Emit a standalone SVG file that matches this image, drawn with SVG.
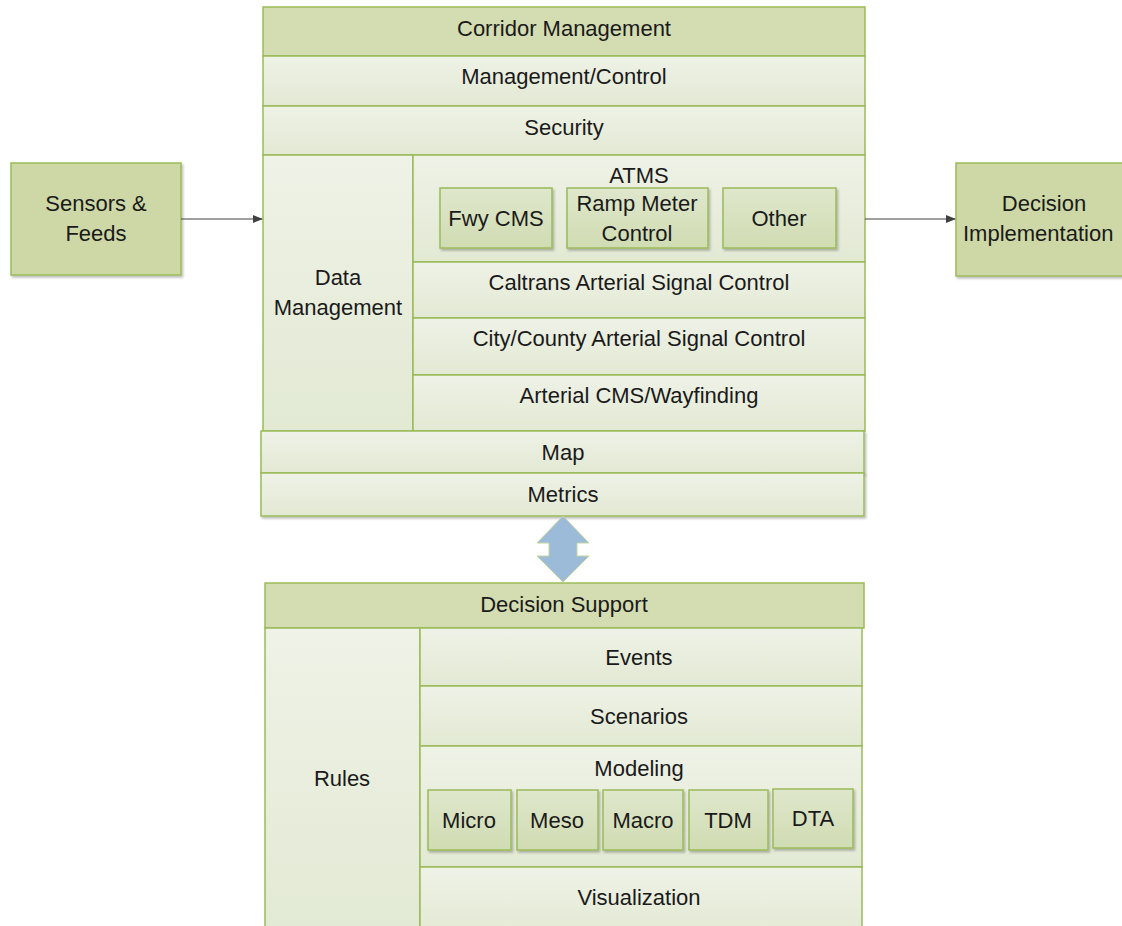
<svg xmlns="http://www.w3.org/2000/svg" width="1122" height="926" viewBox="0 0 1122 926">
<defs>
<linearGradient id="lg" x1="0" y1="0" x2="0" y2="1"><stop offset="0" stop-color="#eff2e7"/><stop offset="1" stop-color="#e2e9d3"/></linearGradient>
<linearGradient id="bg" x1="0" y1="0" x2="0" y2="1"><stop offset="0" stop-color="#dfe7cc"/><stop offset="1" stop-color="#d0dcb2"/></linearGradient>
<marker id="ah" markerWidth="10" markerHeight="8" refX="9" refY="4" orient="auto" markerUnits="userSpaceOnUse"><path d="M0,0 L10,4 L0,8 Z" fill="#404040"/></marker>
<filter id="sh" x="-5%" y="-5%" width="115%" height="120%"><feDropShadow dx="1.5" dy="2" stdDeviation="1" flood-color="#000" flood-opacity="0.25"/></filter>
</defs>
<style>
.hd{fill:#d4dcb1;stroke:#9bbb59;stroke-width:1.5}
.cl{fill:url(#lg);stroke:#9bbb59;stroke-width:1.5}
.bx{fill:url(#bg);stroke:#9bbb59;stroke-width:1.5;filter:url(#sh)}
.ob{fill:#cdd8a6;stroke:#9bbb59;stroke-width:1.5;filter:url(#sh)}
text{font-family:"Liberation Sans",Arial,sans-serif;font-size:22px;fill:#1a1a1a;text-anchor:middle}
.cn{stroke:#404040;stroke-width:1.2;fill:none}
</style>

<g id="sensors"><rect class="ob" x="11" y="163" width="170" height="112"/><text x="96" y="211">Sensors &amp;</text><text x="96" y="241">Feeds</text></g>
<g id="decision-impl"><rect class="ob" x="956" y="163" width="180" height="113"/><text x="1044" y="211">Decision</text><text x="963" y="241" style="text-anchor:start">Implementation</text></g>

<g id="corridor-management">
<rect class="hd" x="263" y="7" width="602" height="49"/><text x="564" y="36">Corridor Management</text>
</g>
<g id="management-control"><rect class="cl" x="263" y="56" width="602" height="50"/><text x="564" y="84">Management/Control</text></g>
<g id="security"><rect class="cl" x="263" y="106" width="602" height="49"/><text x="564" y="135">Security</text></g>
<g id="data-management"><rect class="cl" x="263" y="155" width="150" height="276"/><text x="338" y="285">Data</text><text x="338" y="315">Management</text></g>
<g id="atms"><rect class="cl" x="413" y="155" width="452" height="107"/><text x="639" y="183">ATMS</text></g>
<g id="fwy-cms"><rect class="bx" x="440" y="188" width="112" height="60"/><text x="496" y="226">Fwy CMS</text></g>
<g id="ramp-meter"><rect class="bx" x="567" y="188" width="141" height="60"/><text x="637" y="211">Ramp Meter</text><text x="637" y="241">Control</text></g>
<g id="other"><rect class="bx" x="723" y="188" width="113" height="60"/><text x="779" y="226">Other</text></g>
<g id="caltrans"><rect class="cl" x="413" y="262" width="452" height="56"/><text x="639" y="290">Caltrans Arterial Signal Control</text></g>
<g id="city-county"><rect class="cl" x="413" y="318" width="452" height="57"/><text x="639" y="346">City/County Arterial Signal Control</text></g>
<g id="arterial-cms"><rect class="cl" x="413" y="375" width="452" height="56"/><text x="639" y="403">Arterial CMS/Wayfinding</text></g>
<g id="map"><rect class="cl" x="261" y="431" width="603" height="42" filter="url(#sh)"/><text x="563" y="460">Map</text></g>
<g id="metrics"><rect class="cl" x="261" y="473" width="603" height="43" filter="url(#sh)"/><text x="563" y="502">Metrics</text></g>

<g id="decision-support"><rect class="hd" x="265" y="583" width="599" height="45"/><text x="564" y="612">Decision Support</text></g>
<g id="rules"><rect class="cl" x="265" y="628" width="155" height="310"/><text x="342" y="786">Rules</text></g>
<g id="events"><rect class="cl" x="420" y="628" width="442" height="58"/><text x="639" y="665">Events</text></g>
<g id="scenarios"><rect class="cl" x="420" y="686" width="442" height="60"/><text x="639" y="724">Scenarios</text></g>
<g id="modeling"><rect class="cl" x="420" y="746" width="442" height="121"/><text x="639" y="776">Modeling</text></g>
<g id="micro"><rect class="bx" x="428" y="790" width="83" height="60"/><text x="469" y="828">Micro</text></g>
<g id="meso"><rect class="bx" x="517" y="790" width="81" height="60"/><text x="557" y="828">Meso</text></g>
<g id="macro"><rect class="bx" x="603" y="790" width="80" height="60"/><text x="643" y="828">Macro</text></g>
<g id="tdm"><rect class="bx" x="689" y="790" width="79" height="60"/><text x="728" y="828">TDM</text></g>
<g id="dta"><rect class="bx" x="773" y="789" width="80" height="59"/><text x="813" y="826">DTA</text></g>
<g id="visualization"><rect class="cl" x="420" y="867" width="442" height="70"/><text x="639" y="905">Visualization</text></g>

<g id="connectors">
<line class="cn" x1="181" y1="219" x2="262" y2="219" marker-end="url(#ah)"/>
<line class="cn" x1="865" y1="219" x2="955" y2="219" marker-end="url(#ah)"/>
<path d="M563,516 L589,543 L577,543 L577,556 L589,556 L563,582 L537,556 L549,556 L549,543 L537,543 Z" fill="#9bbbd9" stroke="#c4d5a0" stroke-width="1"/>
</g>
</svg>
